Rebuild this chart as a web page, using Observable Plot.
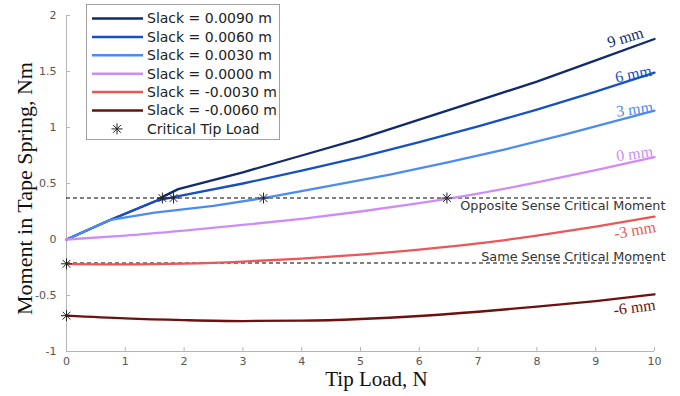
<!DOCTYPE html>
<html><head><meta charset="utf-8">
<script src="https://cdn.jsdelivr.net/npm/d3@7"></script>
<script src="https://cdn.jsdelivr.net/npm/@observablehq/plot@0.6"></script>
<style>body{margin:0;background:#fff} #chart{width:680px;height:396px}</style>
</head><body><div id="chart"></div>
<script>
// ---- data ----
const seriesNames = ["Slack = 0.0090 m","Slack = 0.0060 m","Slack = 0.0030 m","Slack = 0.0000 m","Slack = -0.0030 m","Slack = -0.0060 m"];
const curveLabels = ["9 mm","6 mm","3 mm","0 mm","-3 mm","-6 mm"];
const seriesColors = ["#112a6e","#1650c4","#4b8cf2","#d08cf6","#ec5656","#6e1010"];

const load9 = [0, 0.75, 1.55, 1.65, 1.9, 3, 4, 5, 6, 7, 8, 9, 10];
const moment9 = [0, 0.176, 0.35, 0.385, 0.45, 0.60, 0.75, 0.90, 1.07, 1.24, 1.41, 1.60, 1.79];
const load6 = [0, 0.75, 1.55, 1.82, 3, 4, 5, 6, 7, 8, 9, 10];
const moment6 = [0, 0.176, 0.35, 0.378, 0.50, 0.615, 0.735, 0.87, 1.01, 1.16, 1.32, 1.49];
const load3 = [0, 0.75, 1.5, 2.5, 3.35, 4.5, 5.5, 6.5, 7.5, 8.5, 10];
const moment3 = [0, 0.176, 0.24, 0.30, 0.37, 0.48, 0.58, 0.69, 0.81, 0.94, 1.15];
const load0 = [0, 1, 2, 3, 4, 5, 6, 7, 8, 9, 10];
const moment0 = [0, 0.035, 0.08, 0.13, 0.185, 0.25, 0.325, 0.41, 0.51, 0.62, 0.735];
const loadM3 = [0, 1, 2, 3, 4, 5, 6, 7, 8, 9, 10];
const momentM3 = [-0.217, -0.222, -0.215, -0.197, -0.17, -0.135, -0.09, -0.035, 0.035, 0.115, 0.205];
const loadM6 = [0, 1, 2, 3, 4, 5, 6, 7, 8, 9, 10];
const momentM6 = [-0.68, -0.705, -0.72, -0.728, -0.725, -0.71, -0.683, -0.645, -0.60, -0.55, -0.49];

const critLoad = [1.63, 1.82, 3.35, 6.47, 0, 0];
const critMoment = [0.37, 0.37, 0.37, 0.37, -0.217, -0.68];

const oppositeCritical = 0.37;
const sameCritical = -0.21;
const criticalLabels = ["Opposite Sense Critical Moment", "Same Sense Critical Moment"];

const xTicks = [0,1,2,3,4,5,6,7,8,9,10];
const yTicks = [-1,-0.5,0,0.5,1,1.5,2];
const xTitle = "Tip Load, N";
const yTitle = "Moment in Tape Spring, Nm";
const legendStarLabel = "Critical Tip Load";

// ---- build ----
const loads = [load9, load6, load3, load0, loadM3, loadM6];
const moments = [moment9, moment6, moment3, moment0, momentM3, momentM6];
const curves = ["linear","linear","linear","monotone-x","monotone-x","monotone-x"];
const series = loads.map((xs, s) => xs.map((x, i) => ({x, y: moments[s][i]})));
const crit = critLoad.map((x, i) => ({x, y: critMoment[i]}));

// 8-armed asterisk (MATLAB "*")
const star8 = {
  draw(ctx, size) {
    const r = Math.sqrt(size / Math.PI);
    for (let k = 0; k < 4; k++) {
      const a = k * Math.PI / 4, c = Math.cos(a) * r, s = Math.sin(a) * r;
      ctx.moveTo(-c, -s); ctx.lineTo(c, s);
    }
  }
};

// curve label placement (offsets / rotation per label)
const labelStyle = [
  {dx: -10, dy: -2, rotate: -17, lineAnchor: "bottom"},
  {dx: -2, dy: 3, rotate: -11, lineAnchor: "bottom"},
  {dx: -1, dy: 1, rotate: -8, lineAnchor: "bottom"},
  {dx: -1, dy: -1, rotate: -8, lineAnchor: "bottom"},
  {dx: 0, dy: 4, rotate: -10, lineAnchor: "top"},
  {dx: 0, dy: 4, rotate: -8, lineAnchor: "top"}
];

const marks = [
  Plot.ruleX([0], {stroke: "#b5b5b5"}),
  Plot.ruleY([-1], {stroke: "#b5b5b5"}),
  Plot.axisX({ticks: xTicks, tickSize: -4, tickPadding: 10, stroke: "#b5b5b5", fill: "#555", fontSize: 11, label: null, tickFormat: d => String(d)}),
  Plot.axisY({ticks: yTicks, tickSize: -4, tickPadding: 14, stroke: "#b5b5b5", fill: "#555", fontSize: 11, label: null, tickFormat: d => String(d)}),
  Plot.ruleY([oppositeCritical, sameCritical], {stroke: "#000", strokeDasharray: "4,3", strokeWidth: 1.1}),
  Plot.text([criticalLabels[0]], {x: 10, y: oppositeCritical, text: d => d, textAnchor: "end", lineAnchor: "top", dx: 11, dy: 3, fontSize: 12.8, fill: "#333", fontFamily: "DejaVu Sans"}),
  Plot.text([criticalLabels[1]], {x: 10, y: sameCritical, text: d => d, textAnchor: "end", lineAnchor: "bottom", dx: 11, dy: -2, fontSize: 12.8, fill: "#333", fontFamily: "DejaVu Sans"}),
];
series.forEach((data, s) => {
  marks.push(Plot.line(data, {x: "x", y: "y", stroke: seriesColors[s], strokeWidth: 2.3, curve: curves[s]}));
});
series.forEach((data, s) => {
  const last = data[data.length - 1];
  const st = labelStyle[s];
  marks.push(Plot.text([last], {x: "x", y: "y", text: () => curveLabels[s], fill: seriesColors[s], textAnchor: "end", lineAnchor: st.lineAnchor, dx: st.dx, dy: st.dy, rotate: st.rotate, fontSize: 16, fontFamily: "Liberation Serif"}));
});
marks.push(Plot.dot(crit, {x: "x", y: "y", symbol: star8, r: 5.5, stroke: "#222", strokeWidth: 1}));
marks.push(Plot.text([xTitle], {frameAnchor: "bottom", text: d => d, textAnchor: "middle", lineAnchor: "middle", dx: 16, dy: 28, fontSize: 21, fontFamily: "Liberation Serif", fill: "#111"}));
marks.push(Plot.text([yTitle], {frameAnchor: "left", text: d => d, textAnchor: "middle", lineAnchor: "middle", dx: -42, dy: 5, rotate: -90, fontSize: 22, fontFamily: "Liberation Serif", fill: "#111"}));

const chart = Plot.plot({
  width: 680, height: 396,
  marginLeft: 66, marginRight: 26, marginTop: 15, marginBottom: 45,
  x: {domain: [0, 10]},
  y: {domain: [-1, 2]},
  style: {fontFamily: "DejaVu Sans", background: "white"},
  marks
});
document.getElementById("chart").appendChild(chart);

// ---- legend ----
const svg = d3.select(chart);
const lg = svg.append("g").attr("font-family", "DejaVu Sans").attr("font-size", 14).attr("text-anchor", "start");
lg.append("rect").attr("x", 86.5).attr("y", 4.5).attr("width", 193).attr("height", 135)
  .attr("fill", "white").attr("stroke", "#a0a0a0");
const rowY = i => 18.5 + i * 18.4;
seriesNames.forEach((name, i) => {
  lg.append("line").attr("x1", 92).attr("x2", 143).attr("y1", rowY(i)).attr("y2", rowY(i))
    .attr("stroke", seriesColors[i]).attr("stroke-width", 2.5);
  lg.append("text").attr("x", 147).attr("y", rowY(i)).attr("dy", "0.35em").attr("fill", "#222").text(name);
});
lg.append("path").attr("transform", `translate(117,${rowY(6)})`)
  .attr("d", d3.symbol(star8, Math.PI * 5.5 * 5.5)()).attr("stroke", "#222").attr("fill", "none");
lg.append("text").attr("x", 147).attr("y", rowY(6)).attr("dy", "0.35em").attr("fill", "#222").text(legendStarLabel);
</script></body></html>
